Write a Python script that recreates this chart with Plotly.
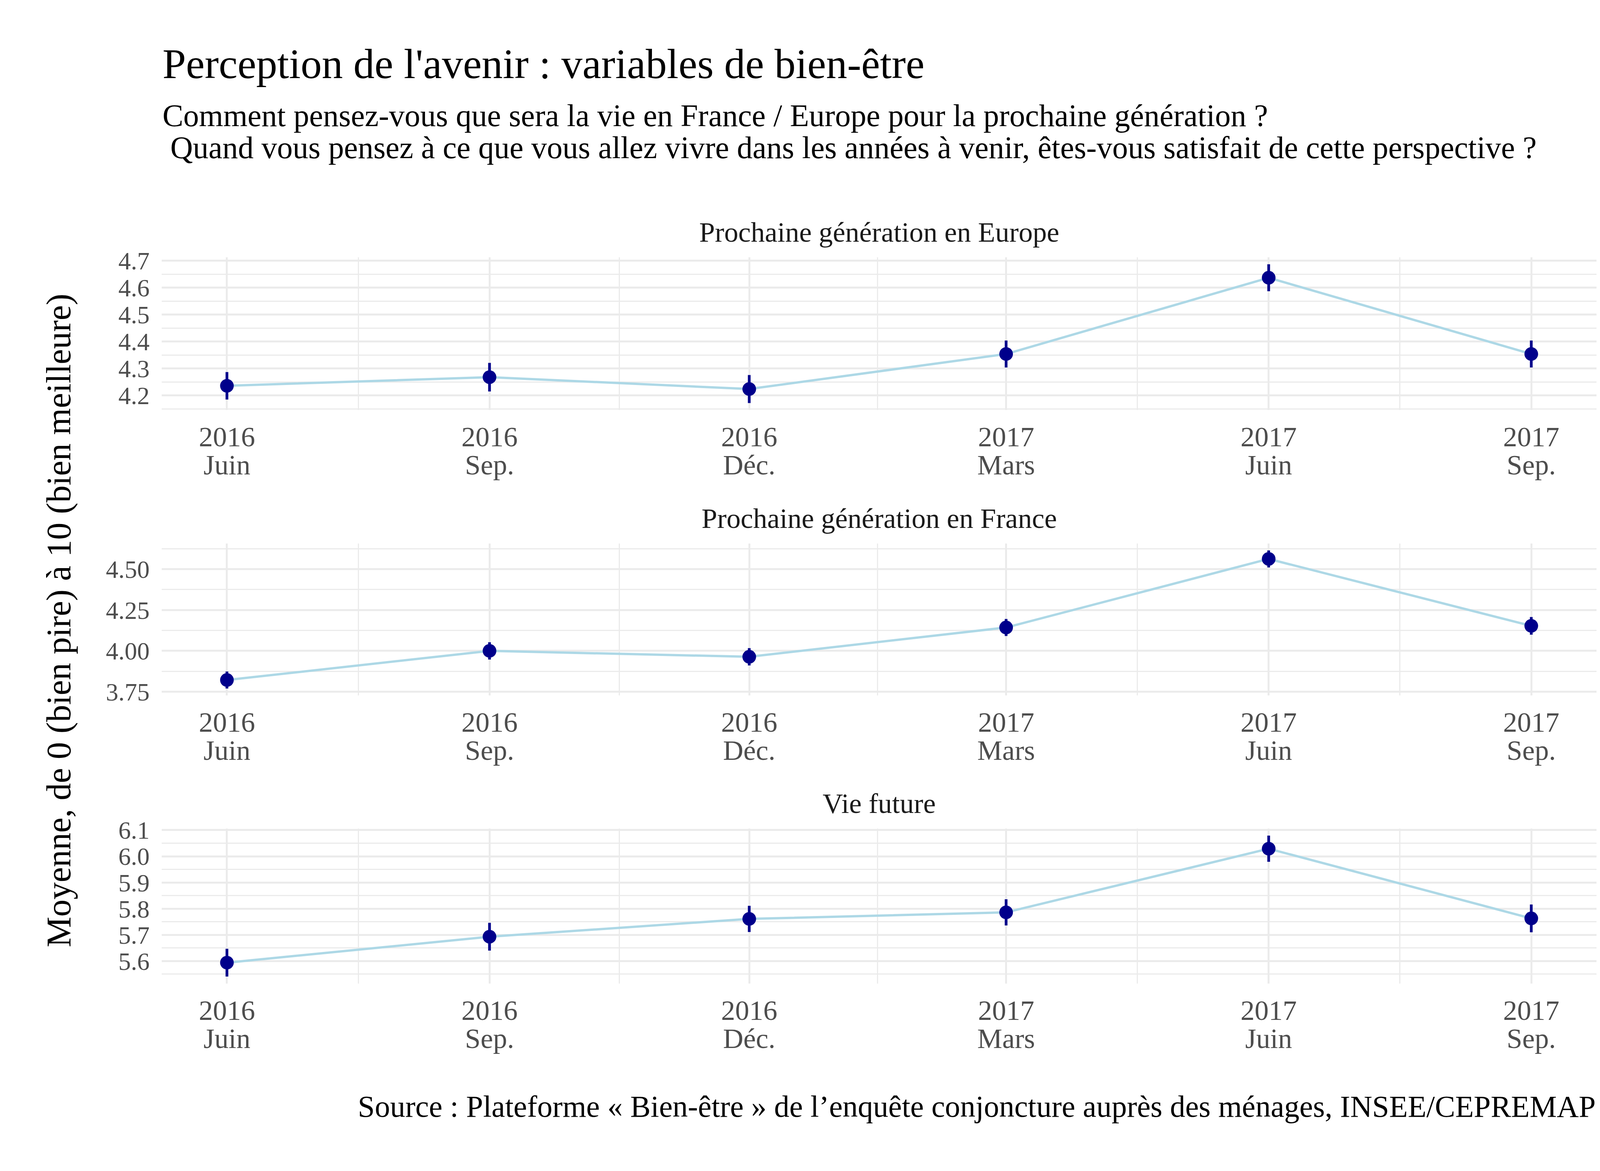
import pandas as pd
import plotly.graph_objects as go
from plotly.subplots import make_subplots

# Dates des vagues d'enquête et libellés des ticks (année / mois)
dates = ["2016-06-01", "2016-09-01", "2016-12-01", "2017-03-01", "2017-06-01", "2017-09-01"]
tick_years = ["2016", "2016", "2016", "2017", "2017", "2017"]
tick_months = ["Juin", "Sep.", "Déc.", "Mars", "Juin", "Sep."]

panels = ["Prochaine génération en Europe", "Prochaine génération en France", "Vie future"]

# Moyennes et demi-intervalles de confiance
europe = [4.236, 4.268, 4.224, 4.354, 4.637, 4.354]
europe_err = [0.051, 0.053, 0.052, 0.050, 0.050, 0.050]
france = [3.822, 4.000, 3.964, 4.143, 4.562, 4.153]
france_err = [0.052, 0.053, 0.053, 0.052, 0.052, 0.054]
vie = [5.594, 5.693, 5.761, 5.786, 6.029, 5.763]
vie_err = [0.053, 0.053, 0.050, 0.050, 0.050, 0.053]

series = [(europe, europe_err, 0.1, ".1f"), (france, france_err, 0.25, ".2f"), (vie, vie_err, 0.1, ".1f")]

FONT = "Liberation Serif"
GRID = "#EBEBEB"
TICK = dict(family=FONT, size=72, color="#4D4D4D")
YTICK = dict(family=FONT, size=64, color="#4D4D4D")
W, H = 4200, 2999
L, R, T, B = 406, 4079, 651, 2511   # zone de tracé en pixels
panel_px = [(651, 1042), (1384, 1773), (2114, 2511)]


def py(p):
    # pixel vertical -> coordonnée papier
    return (B - p) / (B - T)


d = pd.to_datetime(dates)
span = d[-1] - d[0]
xrange = [d[0] - span * 0.05, d[-1] + span * 0.05]
mids = [d[i] + (d[i + 1] - d[i]) / 2 for i in range(len(d) - 1)]

fig = make_subplots(rows=3, cols=1)

for i, (vals, err, step, fmt) in enumerate(series):
    r = i + 1
    xname = "x" if r == 1 else f"x{r}"
    yname = "y" if r == 1 else f"y{r}"
    top, bot = panel_px[i]

    # axe superposé : porte les points et la ligne des mois
    fig.layout[f"xaxis{r + 3}"] = dict(overlaying=xname, anchor=yname, side="bottom",
                                        type="date", range=xrange,
                                        tickmode="array", tickvals=dates, ticktext=tick_months,
                                        showgrid=False, zeroline=False, showline=False, ticks="",
                                        ticklabelstandoff=92, tickfont=TICK)

    fig.add_trace(go.Scatter(x=dates, y=vals, mode="lines",
                             line=dict(color="lightblue", width=6),
                             showlegend=False, hoverinfo="skip"), row=r, col=1)
    fig.add_trace(go.Scatter(x=dates, y=vals, mode="markers",
                             marker=dict(color="darkblue", size=35),
                             error_y=dict(type="data", array=err, color="darkblue",
                                          thickness=7, width=0),
                             xaxis=f"x{r + 3}", yaxis=yname,
                             showlegend=False))

    lo = min(v - e for v, e in zip(vals, err))
    hi = max(v + e for v, e in zip(vals, err))
    pad = (hi - lo) * 0.05
    fig.update_yaxes(row=r, col=1, range=[lo - pad, hi + pad], domain=[py(bot), py(top)],
                     dtick=step, tick0=0, tickformat=fmt,
                     showgrid=True, gridcolor=GRID, gridwidth=5,
                     minor=dict(dtick=step / 2, tick0=0, showgrid=True, gridcolor=GRID, gridwidth=2.5),
                     zeroline=False, showline=False, ticks="",
                     ticklabelstandoff=30, tickfont=YTICK)
    fig.update_xaxes(row=r, col=1, type="date", range=xrange,
                     tickmode="array", tickvals=dates, ticktext=tick_years,
                     showgrid=True, gridcolor=GRID, gridwidth=5,
                     minor=dict(tickmode="array", tickvals=mids, showgrid=True,
                                gridcolor=GRID, gridwidth=2.5),
                     zeroline=False, showline=False, ticks="",
                     ticklabelstandoff=20, tickfont=TICK)
    fig.add_annotation(text=panels[i], xref="paper", yref="paper", x=0.5, y=py(top - 64),
                       xanchor="center", yanchor="middle", showarrow=False,
                       font=dict(family=FONT, size=72, color="#1A1A1A"))

fig.add_annotation(text="Perception de l'avenir : variables de bien-être",
                   xref="paper", yref="paper", x=0, y=py(155), xanchor="left", yanchor="middle",
                   showarrow=False, font=dict(family=FONT, size=108, color="black"))
fig.add_annotation(text="Comment pensez-vous que sera la vie en France / Europe pour la prochaine génération ?",
                   xref="paper", yref="paper", x=0, y=py(288), xanchor="left", yanchor="middle",
                   showarrow=False, font=dict(family=FONT, size=80, color="black"))
fig.add_annotation(text="\u00a0Quand vous pensez à ce que vous allez vivre dans les années à venir, êtes-vous satisfait de cette perspective ?",
                   xref="paper", yref="paper", x=0, y=py(370), xanchor="left", yanchor="middle",
                   showarrow=False, font=dict(family=FONT, size=80, color="black"))
fig.add_annotation(text="Moyenne, de 0 (bien pire) à 10 (bien meilleure)",
                   xref="paper", yref="paper", x=(142 - L) / (R - L), y=0.5, textangle=-90,
                   xanchor="center", yanchor="middle", showarrow=False,
                   font=dict(family=FONT, size=88, color="black"))
fig.add_annotation(text="Source : Plateforme « Bien-être » de l’enquête conjoncture auprès des ménages, INSEE/CEPREMAP",
                   xref="paper", yref="paper", x=1, y=py(2825), xanchor="right", yanchor="middle",
                   showarrow=False, font=dict(family=FONT, size=78, color="black"))

fig.update_layout(width=W, height=H,
                  margin=dict(l=L, r=W - R, t=T, b=H - B),
                  plot_bgcolor="white", paper_bgcolor="white",
                  font=dict(family=FONT))

fig.write_html("out.html")
